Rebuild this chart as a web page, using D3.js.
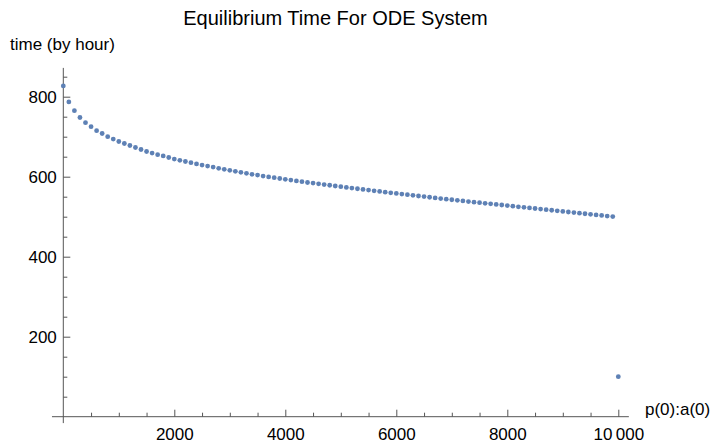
<!DOCTYPE html>
<html>
<head>
<meta charset="utf-8">
<script src="https://cdn.jsdelivr.net/npm/d3@7"></script>
<style>
  body { margin: 0; background: #fff; }
  svg { display: block; font-family: "Liberation Sans", Arial, sans-serif; }
</style>
</head>
<body>
<div id="chart"></div>
<script>
// p(0):a(0) ratio for every point
var ratioValues = [
  0, 100, 200, 300, 400, 500, 600, 700, 800, 900,
  1000, 1100, 1200, 1300, 1400, 1500, 1600, 1700, 1800, 1900,
  2000, 2100, 2200, 2300, 2400, 2500, 2600, 2700, 2800, 2900,
  3000, 3100, 3200, 3300, 3400, 3500, 3600, 3700, 3800, 3900,
  4000, 4100, 4200, 4300, 4400, 4500, 4600, 4700, 4800, 4900,
  5000, 5100, 5200, 5300, 5400, 5500, 5600, 5700, 5800, 5900,
  6000, 6100, 6200, 6300, 6400, 6500, 6600, 6700, 6800, 6900,
  7000, 7100, 7200, 7300, 7400, 7500, 7600, 7700, 7800, 7900,
  8000, 8100, 8200, 8300, 8400, 8500, 8600, 8700, 8800, 8900,
  9000, 9100, 9200, 9300, 9400, 9500, 9600, 9700, 9800, 9900,
  10000
];

// equilibrium time (hours)
var timeValues = [
  827, 787, 765, 748, 735, 725, 715, 708, 700, 694,
  688, 683, 678, 673, 668, 663, 659, 655, 652, 648,
  644, 641, 638, 635, 632, 629, 626.5, 624, 621, 618.5,
  616, 613.5, 611, 608.5, 606, 604, 601.5, 599.5, 597.5, 595.5,
  593.5, 591.5, 589.5, 587.5, 585.5, 584, 582.2, 580.4, 578.6, 576.8,
  575, 573.3, 571.6, 569.9, 568.2, 566.5, 564.8, 563.1, 561.4, 559.8,
  558.2, 556.6, 555, 553.4, 551.8, 550.2, 548.6, 547, 545.4, 543.9,
  542.4, 540.9, 539.4, 537.9, 536.4, 535, 533.5, 532.1, 530.6, 529.2,
  527.7, 526.3, 524.8, 523.4, 521.9, 520.5, 519, 517.6, 516.1, 514.7,
  513.2, 511.8, 510.3, 508.9, 507.4, 506, 504.5, 503.1, 501.6, 500.2,
  100
];

var xMajorTicks = [2000, 4000, 6000, 8000, 10000];
var xMinorTicks = [500, 1000, 1500, 2500, 3000, 3500, 4500, 5000, 5500, 6500, 7000, 7500, 8500, 9000, 9500];
var yMajorTicks = [200, 400, 600, 800];
var yMinorTicks = [50, 100, 150, 250, 300, 350, 450, 500, 550, 650, 700, 750, 850];

var svg__Width = 710;
var svg__Height = 443;

var svg = d3.select("#chart")
  .append("svg")
  .attr("width", svg__Width)
  .attr("height", svg__Height);

var x__Scale = d3.scaleLinear().domain([0, 10000]).range([63.3, 618.3]);
var y__Scale = d3.scaleLinear().domain([0, 800]).range([416.7, 96.7]);

var axisColor = "#555";

// axis lines (they run a bit past the data, like the original)
svg.append("line")
  .attr("x1", x__Scale(-204)).attr("x2", x__Scale(10190))
  .attr("y1", y__Scale(0)).attr("y2", y__Scale(0))
  .attr("stroke", axisColor);

svg.append("line")
  .attr("x1", x__Scale(0)).attr("x2", x__Scale(0))
  .attr("y1", y__Scale(-16)).attr("y2", y__Scale(872))
  .attr("stroke", axisColor);

var fmt = d => d === 10000 ? "10\u2009000" : String(d);

function styleAxis(g) {
  g.select(".domain").remove();
  g.selectAll(".tick line").attr("stroke", axisColor);
  g.selectAll(".tick text").attr("fill", "#000").attr("font-size", 17)
    .attr("font-family", "Liberation Sans, Arial, sans-serif");
}

// x axis: ticks point up into the plot
svg.append("g")
  .attr("transform", `translate(0, ${y__Scale(0)})`)
  .call(d3.axisBottom(x__Scale).tickValues(xMinorTicks).tickSize(-4).tickFormat(""))
  .call(styleAxis);

svg.append("g")
  .attr("transform", `translate(0, ${y__Scale(0)})`)
  .call(d3.axisBottom(x__Scale).tickValues(xMajorTicks).tickSize(-7).tickPadding(11).tickFormat(fmt))
  .call(styleAxis);

// y axis: ticks point right into the plot
svg.append("g")
  .attr("transform", `translate(${x__Scale(0)}, 0)`)
  .call(d3.axisLeft(y__Scale).tickValues(yMinorTicks).tickSize(-4).tickFormat(""))
  .call(styleAxis);

svg.append("g")
  .attr("transform", `translate(${x__Scale(0)}, 0)`)
  .call(d3.axisLeft(y__Scale).tickValues(yMajorTicks).tickSize(-7).tickPadding(6.5).tickFormat(fmt))
  .call(styleAxis);

// points
svg.append("g")
  .selectAll("circle")
  .data(ratioValues.map((r, i) => ({ r: r, t: timeValues[i] })))
  .enter()
  .append("circle")
  .attr("cx", d => x__Scale(d.r))
  .attr("cy", d => y__Scale(d.t))
  .attr("r", 2.4)
  .attr("fill", "#5e81b5");

// labels
svg.append("text")
  .attr("x", 335.5).attr("y", 25)
  .attr("text-anchor", "middle")
  .attr("font-size", 20)
  .text("Equilibrium Time For ODE System");

svg.append("text")
  .attr("x", 10).attr("y", 50)
  .attr("font-size", 17)
  .text("time (by hour)");

svg.append("text")
  .attr("x", 645).attr("y", 415)
  .attr("font-size", 17)
  .text("p(0):a(0)");
</script>
</body>
</html>
